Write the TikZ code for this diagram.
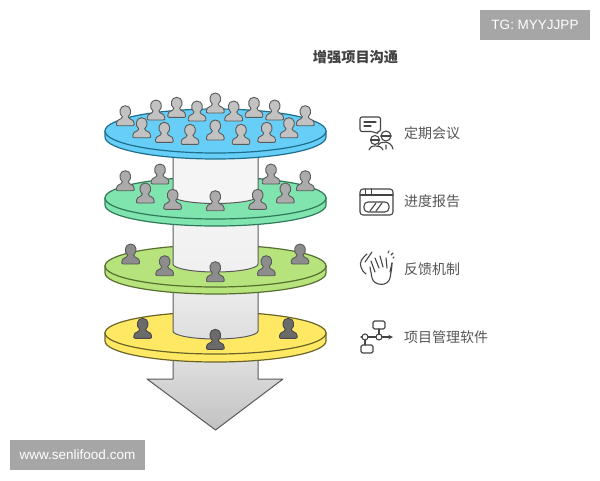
\documentclass[tikz,border=0pt]{standalone}
\usepackage{fontspec}
\setmainfont{Noto Sans CJK SC}
\newfontfamily\markfont{Liberation Sans}
\definecolor{blueface}{HTML}{66CEF7}
\definecolor{blueline}{HTML}{1E6F8E}
\definecolor{greenface}{HTML}{80E4AE}
\definecolor{greenline}{HTML}{2F7A58}
\definecolor{limeface}{HTML}{B6E37C}
\definecolor{limeline}{HTML}{566F2E}
\definecolor{yellowface}{HTML}{FFE964}
\definecolor{yellowline}{HTML}{6B6428}
\definecolor{shaftline}{HTML}{5A5A5A}
\definecolor{labeltext}{HTML}{555555}
\definecolor{iconline}{HTML}{444444}
\definecolor{markbox}{HTML}{A6A6A6}
\tikzset{
  person/.pic={
    \path[pic actions] (-7.5,0) .. controls (-9,0) and (-9,-1) .. (-8.8,-2.5)
      .. controls (-8.6,-7) and (-3.5,-5.5) .. (-3,-9)
      .. controls (-7,-12) and (-6,-20) .. (0,-20)
      .. controls (6,-20) and (7,-12) .. (3,-9)
      .. controls (3.5,-5.5) and (8.6,-7) .. (8.8,-2.5)
      .. controls (9,-1) and (9,0) .. (7.5,0) -- cycle;
  },
  shaft/.style={draw=shaftline,line width=1pt,line join=round},
  looksblue/.style={draw=shaftline,line width=0.9pt,fill=black!24},
  looksgreen/.style={draw=shaftline,line width=0.9pt,fill=black!33},
  lookslime/.style={draw=shaftline,line width=0.9pt,fill=black!45},
  looksyellow/.style={draw=shaftline!80!black,line width=0.9pt,fill=black!58},
  rowlabel/.style={anchor=west,text=labeltext,font=\fontsize{14}{15}\selectfont,inner sep=0pt},
  watermark/.style={fill=markbox,text=white,inner sep=0pt,font=\markfont\fontsize{13.5}{15}\selectfont},
  iconpen/.style={draw=iconline,line width=1.1pt,line cap=round,line join=round},
}
\newcommand{\drawdisc}[5]{%
  \draw[draw=#5,fill=#4,line width=1.2pt] (105,#1) -- (105,#1+#3)
    arc[start angle=180,end angle=0,x radius=110.5,y radius=#2] -- (326,#1) -- cycle;
  \draw[draw=#5,fill=#4,line width=1.2pt] (215.5,#1) ellipse[x radius=110.5,y radius=#2];
}
\newcommand{\drawshaft}[5]{%
  \draw[shaft,top color=#4,bottom color=#5] (173,#1) -- (173,#2)
    arc[start angle=180,end angle=0,x radius=42.5,y radius=#3] -- (258,#1) -- cycle;
}
\begin{document}
\begin{tikzpicture}[x=1pt,y=-1pt]
  \useasboundingbox (0,0) rectangle (600,480);
  % arrow
  \draw[shaft,top color=black!12,bottom color=black!24] (173,355) -- (173,379) -- (147,379)
    -- (215.5,430) -- (283,379) -- (258,379) -- (258,355) -- cycle;
  % yellow level
  \drawdisc{333}{21}{8}{yellowface}{yellowline}
  \drawshaft{266}{331}{8}{black!5}{black!13}
  \foreach \px/\py in {142.7/338.3,215.3/349.3,288.3/338.3}
    \pic[looksyellow] at (\px,\py) {person};
  % lime level
  \drawdisc{266}{21}{7}{limeface}{limeline}
  \drawshaft{198}{264}{8}{black!4}{black!6}
  \foreach \px/\py in {130.7/264,164.7/275.7,215.3/281.7,266.3/275.7,300/264}
    \pic[lookslime] at (\px,\py) {person};
  % green level
  \drawdisc{198}{21}{7}{greenface}{greenline}
  \drawshaft{131}{196}{7.5}{black!4}{black!4}
  \foreach \px/\py in {125.3/190.7,160/184,305.3/190.7,271/184,145.3/203,285.3/203,172.7/209.3,215.3/210.7,257.7/209.3}
    \pic[looksgreen] at (\px,\py) {person};
  % blue level
  \drawdisc{131}{22}{6}{blueface}{blueline}
  \foreach \px/\py in {125.3/125.7,156/120,176.7/117.3,197/121,215.3/113,233.7/121,254/117.3,274.7/120,305.3/125.7,
    141.7/137.7,164.3/142.3,190/144.3,215.3/140,241/144.3,266.7/142.3,289/137.7}
    \pic[looksblue] at (\px,\py) {person};
  % texts
  \node[text=black!75,inner sep=0pt,font=\fontsize{14.2}{15}\selectfont\bfseries] (title) at (355.5,57) {增强项目沟通};
  \node[rowlabel] (meeting) at (404,133) {定期会议};
  \node[rowlabel] (report) at (404,201) {进度报告};
  \node[rowlabel] (feedback) at (404,269) {反馈机制};
  \node[rowlabel] (software) at (404,337) {项目管理软件};
  \node[watermark,minimum width=110pt,minimum height=30pt] (tgmark) at (535,25) {TG: MYYJJPP};
  \node[watermark,minimum width=135pt,minimum height=30pt] (sitemark) at (77.5,455) {www.senlifood.com};
  % meeting icon
  \draw[iconpen,rounded corners=2pt] (360,117) -- (360,131.5) -- (373,131.5) -- (378,134) -- (377,131.5) -- (380.5,131.5) -- (380.5,117) -- cycle;
  \draw[iconpen] (364,122) -- (376,122) (364,126) -- (371,126);
  \draw[iconpen] (375,140) circle (4.5pt) (386,136) circle (5pt);
  \draw[iconpen] (370.5,140) -- (379.5,140) (381,136) -- (391,136);
  \draw[iconpen] (369,150) .. controls (369,145) and (381,144) .. (383,150)
    (378,145) .. controls (380,141) and (391,140) .. (393,149) (386,145) -- (386,149);
  % report icon
  \draw[iconpen,rounded corners=3pt] (360,189) rectangle (393,215);
  \draw[iconpen] (360,195) -- (393,195) (365.5,189) -- (365.5,195) (371.5,189) -- (371.5,195);
  \draw[iconpen,rounded corners=4pt] (364,202) rectangle (389,212);
  \draw[iconpen] (370,211) -- (376,203) (376,211) -- (382,203);
  % feedback icon
  \draw[iconpen] (367,254) .. controls (362,258) and (359,263) .. (361,267) .. controls (362,270) and (363,272) .. (366,274);
  \draw[iconpen] (372,252) -- (365,262);
  \draw[iconpen] (370,267) -- (372,278) .. controls (374,286) and (388,287) .. (390,278)
    .. controls (391,272) and (392,268) .. (392,263);
  \draw[iconpen] (375,272) -- (371,261) (379,268) -- (375,258) (383,267) -- (380,256) (387,268) -- (386,258) (390,272) -- (392,263);
  \draw[iconpen] (388,253) -- (389,251) (391,255) -- (393,253) (393,258) -- (394,257);
  % software icon
  \draw[iconpen,rounded corners=1.5pt] (373,321) rectangle (385,329);
  \draw[iconpen,rounded corners=1.5pt] (361,345) rectangle (373,353);
  \draw[iconpen] (379,337) circle (3pt) (365,337) circle (3pt);
  \draw[iconpen] (379,329) -- (379,334) (361,337) -- (362,337) (368,337) -- (376,337) (365,340) -- (365,345);
  \draw[iconpen,->,>=stealth] (382,337) -- (393,337);
\end{tikzpicture}
\end{document}
